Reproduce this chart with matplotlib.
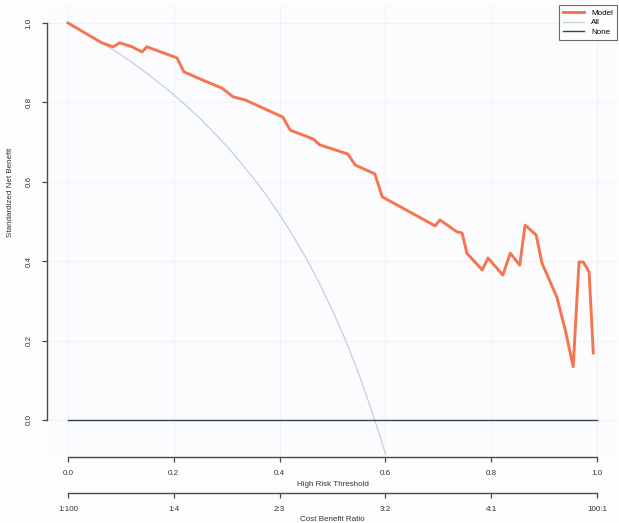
import matplotlib
matplotlib.use("Agg")
import matplotlib.pyplot as plt

plt.rcParams['font.family'] = ['Liberation Sans', 'DejaVu Sans']

# Model standardized net benefit
model_thr = [0.0, 0.064, 0.085, 0.098, 0.121, 0.14, 0.149, 0.206, 0.219, 0.246,
             0.291, 0.312, 0.335, 0.406, 0.42, 0.463, 0.476, 0.529, 0.543, 0.58,
             0.594, 0.694, 0.703, 0.735, 0.745, 0.754, 0.783, 0.794, 0.822, 0.836,
             0.854, 0.864, 0.885, 0.896, 0.924, 0.94, 0.955, 0.966, 0.974, 0.985, 0.993]
model_nb = [1.0, 0.95, 0.94, 0.95, 0.94, 0.927, 0.94, 0.912, 0.877, 0.861,
            0.836, 0.814, 0.806, 0.763, 0.73, 0.708, 0.693, 0.67, 0.642, 0.62,
            0.562, 0.489, 0.504, 0.474, 0.471, 0.42, 0.378, 0.408, 0.365, 0.42,
            0.39, 0.491, 0.466, 0.395, 0.31, 0.227, 0.134, 0.398, 0.398, 0.373, 0.169]

# Treat-all curve
all_thr = [0.0, 0.025, 0.05, 0.075, 0.1, 0.125, 0.15, 0.175, 0.2, 0.225, 0.25,
           0.275, 0.3, 0.325, 0.35, 0.375, 0.4, 0.425, 0.45, 0.475, 0.5, 0.525,
           0.55, 0.575, 0.59, 0.6]
all_nb = [1.0, 0.981, 0.962, 0.941, 0.92, 0.897, 0.872, 0.846, 0.819, 0.79, 0.759,
          0.725, 0.69, 0.651, 0.61, 0.566, 0.517, 0.465, 0.408, 0.345, 0.276, 0.2,
          0.115, 0.02, -0.042, -0.086]

# Treat-none
none_thr = [0.0, 1.0]
none_nb = [0.0, 0.0]

x_ticks = [0.0, 0.2, 0.4, 0.6, 0.8, 1.0]
x_labels = ["0.0", "0.2", "0.4", "0.6", "0.8", "1.0"]
y_ticks = [0.0, 0.2, 0.4, 0.6, 0.8, 1.0]
y_labels = ["0.0", "0.2", "0.4", "0.6", "0.8", "1.0"]
cb_labels = ["1:100", "1:4", "2:3", "3:2", "4:1", "100:1"]

W, H = 619, 523
fig = plt.figure(figsize=(W / 100, H / 100), dpi=100, facecolor='#fdfdfe')
left, right, top, bottom = 47, 618, 5.1, 457
ax = fig.add_axes([left / W, 1 - bottom / H, (right - left) / W, (bottom - top) / H])
ax.set_facecolor('#fcfcfe')

ax.set_xlim(-0.0397, 1.0397)
ax.set_ylim(-0.0932, 1.045)

grid_c = '#edf3f7'
for v in x_ticks:
    ax.axvline(v, color=grid_c, lw=0.8, zorder=0)
for v in y_ticks:
    ax.axhline(v, color=grid_c, lw=0.8, zorder=0)

c_model = '#f47550'
c_all = '#bcd3dd'
c_none = '#334848'

ax.plot(all_thr, all_nb, color=c_all, lw=0.9, label='All', zorder=2)
ax.plot(none_thr, none_nb, color=c_none, lw=1.0, label='None', zorder=2)
ax.plot(model_thr, model_nb, color=c_model, lw=2.1, label='Model', zorder=3,
        solid_joinstyle='round')

for s in ['top', 'right']:
    ax.spines[s].set_visible(False)
spc = '#4a4a4a'
ax.spines['left'].set_bounds(0, 1)
ax.spines['bottom'].set_bounds(0, 1)
ax.spines['left'].set_color(spc)
ax.spines['bottom'].set_color(spc)
ax.spines['left'].set_linewidth(1.0)
ax.spines['bottom'].set_linewidth(1.0)

ax.set_xticks(x_ticks)
ax.set_xticklabels(x_labels)
ax.set_yticks(y_ticks)
ax.set_yticklabels(y_labels, rotation=90, va='center')
ax.tick_params(axis='both', labelsize=5.8, colors=spc, labelcolor='#333333',
               length=3.5, width=0.9, pad=7)
ax.tick_params(axis='x', pad=6)

ax.set_xlabel('High Risk Threshold', fontsize=5.8, color='#333333', labelpad=3)
ax.set_ylabel('Standardized Net Benefit', fontsize=5.8, color='#333333')
ax.yaxis.set_label_coords(-(left - 14) / (right - left), 0.586)

sec = ax.secondary_xaxis(-36 / (bottom - top))
sec.set_xticks(x_ticks)
sec.set_xticklabels(cb_labels)
sec.spines['bottom'].set_bounds(0, 1)
sec.spines['bottom'].set_color(spc)
sec.spines['bottom'].set_linewidth(1.0)
sec.tick_params(axis='x', labelsize=5.8, colors=spc, labelcolor='#333333',
                length=3.5, width=0.9, pad=6)
sec.set_xlabel('Cost Benefit Ratio', fontsize=5.8, color='#333333', labelpad=2)

handles, labels = ax.get_legend_handles_labels()
order = [labels.index('Model'), labels.index('All'), labels.index('None')]
leg = ax.legend([handles[i] for i in order], [labels[i] for i in order],
                loc='upper right', bbox_to_anchor=(617 / W, 1 - 5 / H),
                bbox_transform=fig.transFigure, fontsize=5.8, frameon=True,
                fancybox=False, edgecolor='#444444', handlelength=2.6,
                borderpad=0.5, labelspacing=0.25, handletextpad=0.9,
                borderaxespad=0)
leg.get_frame().set_linewidth(0.8)
leg.get_frame().set_facecolor('white')

fig.savefig('out.png', dpi=100, facecolor=fig.get_facecolor())
